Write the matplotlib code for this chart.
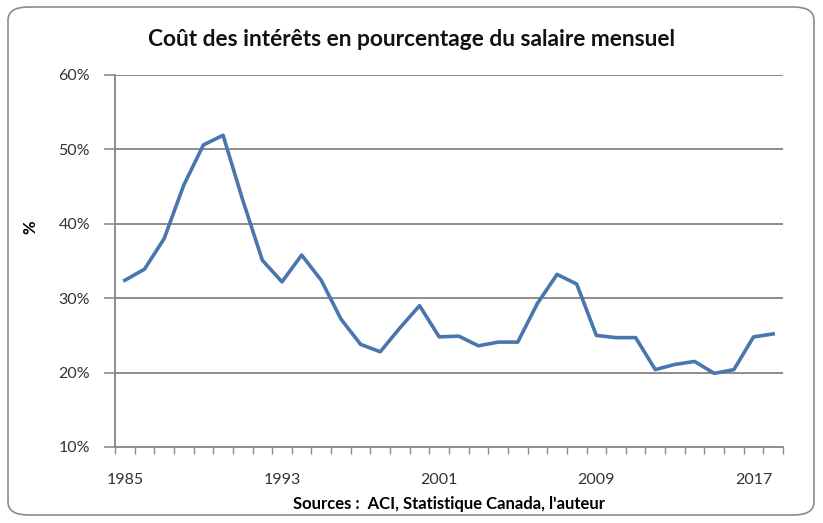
import numpy as np
import matplotlib
matplotlib.use("Agg")
import matplotlib.pyplot as plt
from matplotlib.patches import FancyBboxPatch
from matplotlib.ticker import FuncFormatter, MultipleLocator

# data (percent of monthly salary)
years = list(range(1985, 2019))
cost_pct = [32.4, 33.9, 38.0, 45.2, 50.6, 51.9, 43.2, 35.1, 32.2, 35.8,
            32.4, 27.2, 23.8, 22.8, 26.0, 29.0, 24.8, 24.9, 23.6, 24.1,
            24.1, 29.3, 33.2, 31.9, 25.0, 24.7, 24.7, 20.4, 21.1, 21.5,
            19.9, 20.4, 24.8, 25.2]
label_years = [1985, 1993, 2001, 2009, 2017]
y_ticks = [10, 20, 30, 40, 50, 60]

plt.rcParams['font.family'] = ['Lato', 'DejaVu Sans']

fig = plt.figure(figsize=(8.23, 5.23), dpi=100)

# rounded chart border like the Excel chart area
border = FancyBboxPatch((8 / 823, 8 / 523), 806 / 823, 508 / 523,
                        boxstyle="round,pad=0,rounding_size=0.025",
                        transform=fig.transFigure, facecolor='white',
                        edgecolor='#8c8c8c', linewidth=1.2, zorder=-1)
fig.patches.append(border)

ax = fig.add_axes([115 / 823, 76 / 523, 668 / 823, 372 / 523])
ax.set_facecolor('none')

ax.plot(years, cost_pct, color='#4a76b0', linewidth=2.6, solid_joinstyle='round')

ax.set_xlim(years[0] - 0.5, years[-1] + 0.5)
ax.set_ylim(y_ticks[0], y_ticks[-1])

ax.set_yticks(y_ticks)
ax.yaxis.set_major_formatter(FuncFormatter(lambda v, p: f"{v:.0f}%"))
ax.grid(axis='y', color='#8c8c8c', linewidth=1.4)
ax.set_axisbelow(True)

ax.set_xticks(label_years)
ax.xaxis.set_minor_locator(MultipleLocator(1, offset=0.5))
ax.tick_params(axis='x', which='major', length=0, pad=19)
ax.tick_params(axis='x', which='minor', length=5, color='#8c8c8c', width=1)
ax.tick_params(axis='y', length=8, color='#8c8c8c', width=1.2, pad=10)
ax.tick_params(labelsize=11.5, labelcolor='#333333')

for side in ['top', 'right']:
    ax.spines[side].set_visible(False)
for side in ['left', 'bottom']:
    ax.spines[side].set_color('#8c8c8c')
    ax.spines[side].set_linewidth(1.4)

ax.set_ylabel('%', fontsize=12, fontweight='bold')
ax.yaxis.set_label_coords(-0.115, 0.59)
ax.set_xlabel("Sources :  ACI, Statistique Canada, l'auteur",
              fontsize=12, fontweight='bold', labelpad=6)
fig.text(0.5, 1 - 40 / 523,
         "Coût des intérêts en pourcentage du salaire mensuel",
         ha='center', va='center', fontsize=16.4, fontweight='bold',
         color='#111111')

fig.savefig('out.png', dpi=100)
